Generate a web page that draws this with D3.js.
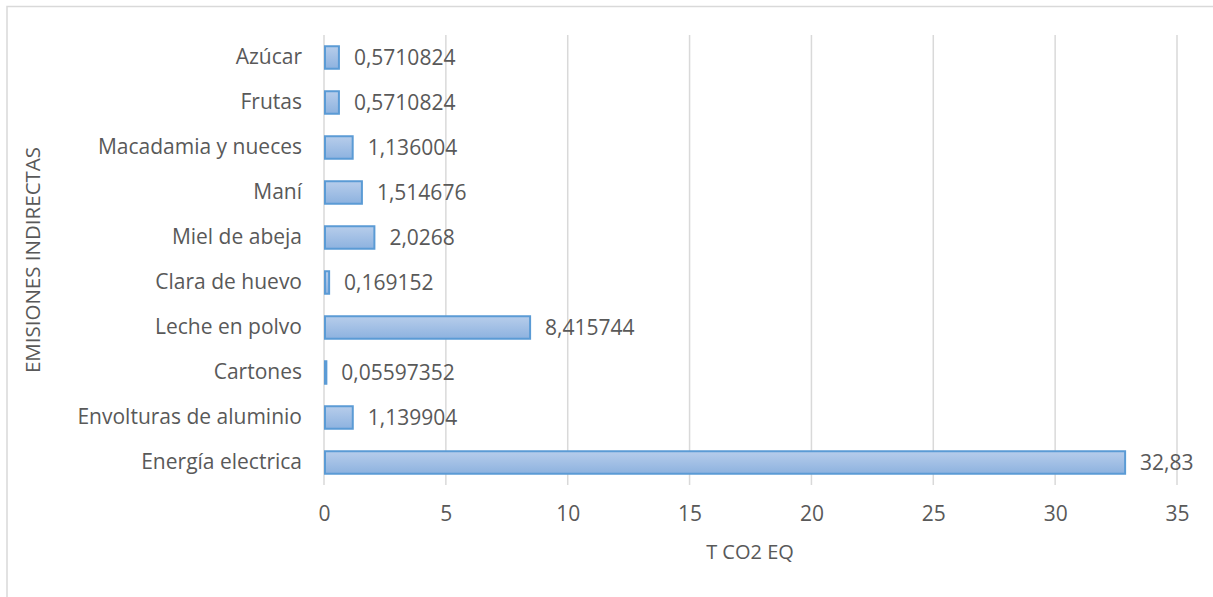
<!DOCTYPE html>
<html>
<head>
<meta charset="utf-8">
<script src="https://cdn.jsdelivr.net/npm/d3@7"></script>
<style>
  body { margin: 0; background: #fff; }
  text { font-family: "Open Sans", Lato, sans-serif; fill: #595959; }
</style>
</head>
<body>
<svg id="chart"></svg>
<script>
const categories = ["Energía electrica", "Envolturas de aluminio", "Cartones", "Leche en polvo", "Clara de huevo", "Miel de abeja", "Maní ", "Macadamia y nueces", "Frutas", "Azúcar"];
const values = [32.83, 1.139904, 0.05597352, 8.415744, 0.169152, 2.0268, 1.514676, 1.136004, 0.5710824, 0.5710824];
const valueLabels = ["32,83", "1,139904", "0,05597352", "8,415744", "0,169152", "2,0268", "1,514676", "1,136004", "0,5710824", "0,5710824"];
const xTicks = [0, 5, 10, 15, 20, 25, 30, 35];

const width = 1213, height = 597;
const margin = {top: 35, right: 36, bottom: 112, left: 324};
const innerW = width - margin.left - margin.right;
const innerH = height - margin.top - margin.bottom;
const font = '"Open Sans", Lato, sans-serif';

const svg = d3.select('#chart').attr('width', width).attr('height', height);

// gradient for the bars
const grad = svg.append('defs').append('linearGradient')
    .attr('id', 'barGrad').attr('x1', 0).attr('y1', 0).attr('x2', 0).attr('y2', 1);
grad.append('stop').attr('offset', '0%').attr('stop-color', '#b7cdeb');
grad.append('stop').attr('offset', '100%').attr('stop-color', '#8db2df');

// chart border
svg.append('rect')
    .attr('x', 7).attr('y', 6.5).attr('width', width + 10).attr('height', height + 10)
    .attr('fill', 'none').attr('stroke', '#d9d9d9').attr('stroke-width', 1.5);

const chart = svg.append('g').attr('transform', `translate(${margin.left},${margin.top})`);

const xScale = d3.scaleLinear().domain([0, 35]).range([0, innerW]);
const yScale = d3.scaleBand().domain(categories.slice().reverse()).range([0, innerH]).paddingInner(0.5).paddingOuter(0.25);

// gridlines
chart.selectAll('.grid')
    .data(xTicks)
    .join('line')
    .attr('class', 'grid')
    .attr('x1', d => xScale(d)).attr('x2', d => xScale(d))
    .attr('y1', 0).attr('y2', innerH)
    .attr('stroke', '#d9d9d9').attr('stroke-width', 1.5);

// x axis
const xAxisG = chart.append('g')
    .attr('transform', `translate(0,${innerH})`)
    .call(d3.axisBottom(xScale).tickValues(xTicks).tickSize(0).tickPadding(21));
xAxisG.select('.domain').remove();
xAxisG.selectAll('text').style('font-size', '21px').attr('fill', '#595959')
    .style('font-family', font);

// y axis
const yAxisG = chart.append('g')
    .call(d3.axisLeft(yScale).tickSize(0).tickPadding(22));
yAxisG.select('.domain').remove();
yAxisG.selectAll('text').style('font-size', '21px').attr('fill', '#595959')
    .style('font-family', font);

// bars
chart.selectAll('.bar')
    .data(categories)
    .join('rect')
    .attr('class', 'bar')
    .attr('x', xScale(0) + 1)
    .attr('y', d => yScale(d))
    .attr('width', (d, i) => Math.max(0.5, xScale(values[i]) - xScale(0)))
    .attr('height', yScale.bandwidth())
    .attr('fill', 'url(#barGrad)')
    .attr('stroke', '#5b9bd5').attr('stroke-width', 2);

// value labels
chart.selectAll('.val')
    .data(categories)
    .join('text')
    .attr('class', 'val')
    .attr('x', (d, i) => xScale(values[i]) + 16)
    .attr('y', d => yScale(d) + yScale.bandwidth() / 2)
    .attr('dy', '0.35em')
    .style('font-size', '21px')
    .text((d, i) => valueLabels[i]);

// axis titles
svg.append('text')
    .attr('x', 750).attr('y', 559)
    .attr('text-anchor', 'middle')
    .style('font-size', '20px')
    .text('T CO2 EQ');

svg.append('text')
    .attr('transform', `translate(40,${margin.top + innerH / 2}) rotate(-90)`)
    .attr('text-anchor', 'middle')
    .style('font-size', '20.5px')
    .text('EMISIONES INDIRECTAS');
</script>
</body>
</html>
